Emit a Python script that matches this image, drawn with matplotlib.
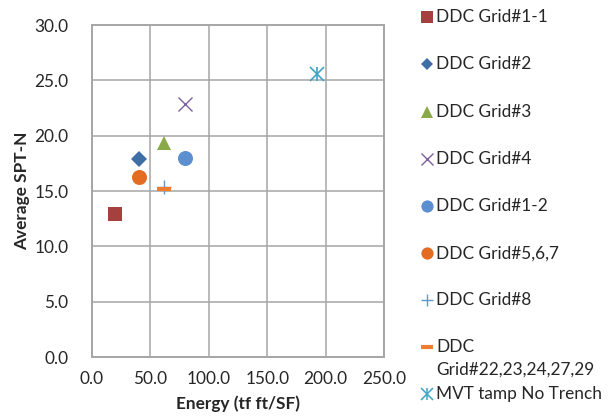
import matplotlib
matplotlib.use("Agg")
import matplotlib.pyplot as plt
from matplotlib.lines import Line2D

plt.rcParams['font.family'] = ['Lato', 'DejaVu Sans']

# Compaction results: energy applied vs. average SPT-N
labels = ["DDC Grid#1-1", "DDC Grid#2", "DDC Grid#3", "DDC Grid#4",
          "DDC Grid#1-2", "DDC Grid#5,6,7", "DDC Grid#8",
          "DDC\nGrid#22,23,24,27,29", "MVT tamp No Trench"]
energy = [20.0, 40.0, 62.0, 80.0, 80.0, 40.0, 62.0, 62.0, 193.0]
spt_n = [12.9, 17.9, 19.3, 22.9, 18.0, 16.3, 15.4, 15.2, 25.6]

x_ticks = [0, 50, 100, 150, 200, 250]
y_ticks = [0, 5, 10, 15, 20, 25, 30]

# marker, color, plot size, legend size, edge width
styles = [
    ("s", "#A5403E", 10.5, 8.6, 0),
    ("D", "#3F6EA6", 7.8, 6.3, 0),
    ("^", "#8AAA4A", 10.5, 8.8, 0),
    ("x", "#7F5FA0", 9.5, 8.5, 1.0),
    ("o", "#5B8FD0", 10.8, 8.8, 0),
    ("o", "#E36C22", 10.8, 8.8, 0),
    ("+", "#5B9BD5", 9.5, 8.5, 1.0),
    ("_", "#ED7D31", 10.5, 8.8, 3.0),
    ("*", "#3FA3C4", 0, 0, 0),
]

FS = 12.4
TXT = "#262626"

fig = plt.figure(figsize=(6.10, 4.17), dpi=100)
ax = fig.add_axes([92 / 610, 1 - 357 / 417, (384 - 92) / 610, (357 - 25) / 417])

grid_color = "#A6A6A6"
for i, (m, c, ms, lms, mew) in enumerate(styles):
    if i == 8:
        # asterisk: x with a vertical bar
        ax.plot(energy[i], spt_n[i], marker="x", ms=9.5, mew=1.2, color=c, ls="none", zorder=3)
        ax.plot(energy[i], spt_n[i], marker="|", ms=10, mew=1.2, color=c, ls="none", zorder=3)
    elif m in ("x", "+", "_"):
        ax.plot(energy[i], spt_n[i], marker=m, ms=ms, mew=mew, color=c, ls="none", zorder=3)
    else:
        ax.plot(energy[i], spt_n[i], marker=m, ms=ms, color=c, mec=c, mew=0, ls="none", zorder=3)

ax.set_xlim(0, 250)
ax.set_ylim(0, 30)
ax.set_xticks(x_ticks)
ax.set_yticks(y_ticks)
ax.set_xticklabels([f"{v:.1f}" for v in x_ticks])
ax.set_yticklabels([f"{v:.1f}" for v in y_ticks])
ax.tick_params(axis="both", length=0, labelsize=FS, labelcolor=TXT)
ax.tick_params(axis="y", pad=17)
ax.tick_params(axis="x", pad=10)
ax.grid(True, color=grid_color, lw=1.1)
ax.set_axisbelow(True)
for s in ax.spines.values():
    s.set_color(grid_color)
    s.set_linewidth(1.4)

ax.set_xlabel("Energy (tf ft/SF)", fontsize=FS, fontweight="bold", color=TXT, labelpad=6)
ax.set_ylabel("Average SPT-N", fontsize=FS, fontweight="bold", color=TXT, labelpad=3)

# Legend entries laid out in a column at the right
text_y = [17.3, 64.3, 111.7, 159.3, 206, 253.3, 300, 347.3, 394]
mx = 427 / 610
tx = 436 / 610
for i, (m, c, ms, lms, mew) in enumerate(styles):
    yy = 1 - text_y[i] / 417
    if i == 8:
        fig.add_artist(Line2D([mx], [yy], marker="x", ms=8, mew=1.1, color=c, ls="none"))
        fig.add_artist(Line2D([mx], [yy], marker="|", ms=8.5, mew=1.1, color=c, ls="none"))
    elif m in ("x", "+", "_"):
        fig.add_artist(Line2D([mx], [yy], marker=m, ms=lms, mew=mew, color=c, ls="none"))
    else:
        fig.add_artist(Line2D([mx], [yy], marker=m, ms=lms, color=c, mew=0, ls="none"))
    label = labels[i]
    if "\n" in label:
        first, second = label.split("\n")
        fig.text(tx, yy, first, fontsize=FS, va="center", ha="left", color=TXT)
        fig.text(tx, 1 - 370 / 417, second, fontsize=FS, va="center", ha="left", color=TXT)
    else:
        fig.text(tx, yy, label, fontsize=FS, va="center", ha="left", color=TXT)

fig.savefig("out.png", dpi=100)
